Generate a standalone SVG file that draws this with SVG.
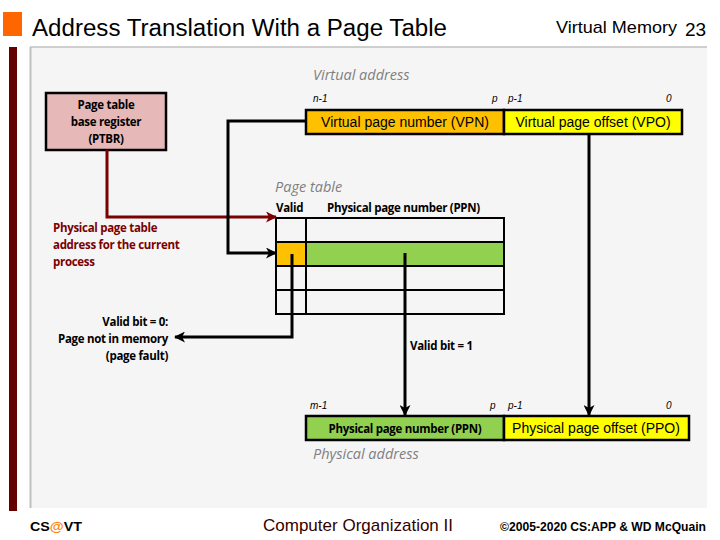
<svg xmlns="http://www.w3.org/2000/svg" width="720" height="540" viewBox="0 0 720 540">
<defs>
<marker id="ab" markerWidth="11" markerHeight="11" refX="10" refY="5.5" orient="auto" markerUnits="userSpaceOnUse"><path d="M0,0 L11,5.5 L0,11 L3,5.5 z" fill="#000"/></marker>
<marker id="ar" markerWidth="11" markerHeight="11" refX="10" refY="5.5" orient="auto" markerUnits="userSpaceOnUse"><path d="M0,0 L11,5.5 L0,11 L3,5.5 z" fill="#7b0000"/></marker>
<style>
.t{font-family:"Liberation Sans",Arial,sans-serif}
.c{font-family:"Open Sans","DejaVu Sans Condensed","Liberation Sans",sans-serif;font-weight:bold;font-size:11.5px;letter-spacing:-0.3px}
.it{font-family:"Open Sans","Liberation Sans",sans-serif;font-style:italic;fill:#7f7f7f;font-size:14.5px}
.sm{font-family:"Liberation Sans",sans-serif;font-style:italic;font-size:10px;fill:#000}
.box{stroke:#000;stroke-width:2.5}
.ln{fill:none;stroke:#000;stroke-width:3}
</style>
</defs>
<rect width="720" height="540" fill="#fff"/>
<g id="frame">
<rect x="3" y="12" width="19" height="24" fill="#ff6600"/>
<text class="t" x="32" y="36" font-size="23" textLength="415" lengthAdjust="spacingAndGlyphs">Address Translation With a Page Table</text>
<text class="t" x="556" y="33" font-size="17" textLength="121" lengthAdjust="spacingAndGlyphs">Virtual Memory</text>
<text class="t" x="685" y="36" font-size="19">23</text>
<rect x="30" y="47" width="677" height="461" fill="#f5f5f5"/>
<line x1="30" y1="47" x2="707" y2="47" stroke="#bfbfbf" stroke-width="1.5"/>
<line x1="30.5" y1="47" x2="30.5" y2="508" stroke="#bfbfbf" stroke-width="2"/>
<rect x="9" y="47" width="8" height="464" fill="#660000"/>
<text class="t" x="30" y="531" font-size="13" font-weight="bold" textLength="52" lengthAdjust="spacingAndGlyphs">CS<tspan fill="#ff8000">@</tspan>VT</text>
<text class="t" x="263" y="531" font-size="17" fill="#330000" textLength="190" lengthAdjust="spacingAndGlyphs">Computer Organization II</text>
<text class="t" x="500" y="531" font-size="12" font-weight="bold" textLength="206" lengthAdjust="spacingAndGlyphs">©2005-2020 CS:APP &amp; WD McQuain</text>
</g>
<g id="ptbr">
<rect class="box" x="46" y="93" width="120" height="57" fill="#e6b9b8" stroke-width="2"/>
<text class="c" x="106" y="109" text-anchor="middle">Page table</text>
<text class="c" x="106" y="126" text-anchor="middle">base register</text>
<text class="c" x="106" y="143" text-anchor="middle">(PTBR)</text>
</g>
<g id="vaddr">
<text class="it" x="313" y="80">Virtual address</text>
<text class="sm" x="313" y="102">n-1</text>
<text class="sm" x="492" y="102">p</text>
<text class="sm" x="508" y="102">p-1</text>
<text class="sm" x="666" y="102">0</text>
<rect class="box" x="306" y="110" width="198" height="24" fill="#ffc000"/>
<rect class="box" x="504" y="110" width="178" height="24" fill="#ffff00"/>
<text class="t" x="405" y="127" font-size="14" text-anchor="middle">Virtual page number (VPN)</text>
<text class="t" x="593" y="127" font-size="14" text-anchor="middle">Virtual page offset (VPO)</text>
</g>
<g id="pagetable">
<text class="it" x="275" y="192">Page table</text>
<text class="c" x="276" y="212">Valid</text>
<text class="c" x="327" y="212">Physical page number (PPN)</text>
<rect x="276" y="242" width="30" height="24" fill="#ffc000"/>
<rect x="306" y="242" width="198" height="24" fill="#92d050"/>
<rect x="276" y="218" width="228" height="96" fill="none" stroke="#000" stroke-width="2"/>
<path d="M276,242 H504 M276,266 H504 M276,290 H504 M306,218 V314" stroke="#000" stroke-width="2" fill="none"/>
</g>
<g id="paddr">
<text class="sm" x="310" y="409">m-1</text>
<text class="sm" x="490" y="409">p</text>
<text class="sm" x="508" y="409">p-1</text>
<text class="sm" x="666" y="409">0</text>
<rect class="box" x="306" y="416" width="198" height="24" fill="#92d050"/>
<rect class="box" x="504" y="416" width="185" height="24" fill="#ffff00"/>
<text class="c" x="405" y="433" text-anchor="middle">Physical page number (PPN)</text>
<text class="t" x="596" y="433" font-size="14" text-anchor="middle">Physical page offset (PPO)</text>
<text class="it" x="313" y="459">Physical address</text>
</g>
<g id="labels">
<text class="c" x="53" y="232" fill="#7b0000">Physical page table</text>
<text class="c" x="53" y="249" fill="#7b0000">address for the current</text>
<text class="c" x="53" y="266" fill="#7b0000">process</text>
<text class="c" x="168" y="326" text-anchor="end">Valid bit = 0:</text>
<text class="c" x="168" y="343" text-anchor="end">Page not in memory</text>
<text class="c" x="168" y="360" text-anchor="end">(page fault)</text>
<text class="c" x="410" y="350">Valid bit = 1</text>
</g>
<g id="connectors">
<path d="M107,150 V217 H276" fill="none" stroke="#7b0000" stroke-width="3" marker-end="url(#ar)"/>
<path class="ln" d="M306,121 H228 V253 H276" marker-end="url(#ab)"/>
<path class="ln" d="M292,254 V337 H175" marker-end="url(#ab)"/>
<path class="ln" d="M405,253 V415" marker-end="url(#ab)"/>
<path class="ln" d="M589,134 V415" marker-end="url(#ab)"/>
</g>
</svg>
